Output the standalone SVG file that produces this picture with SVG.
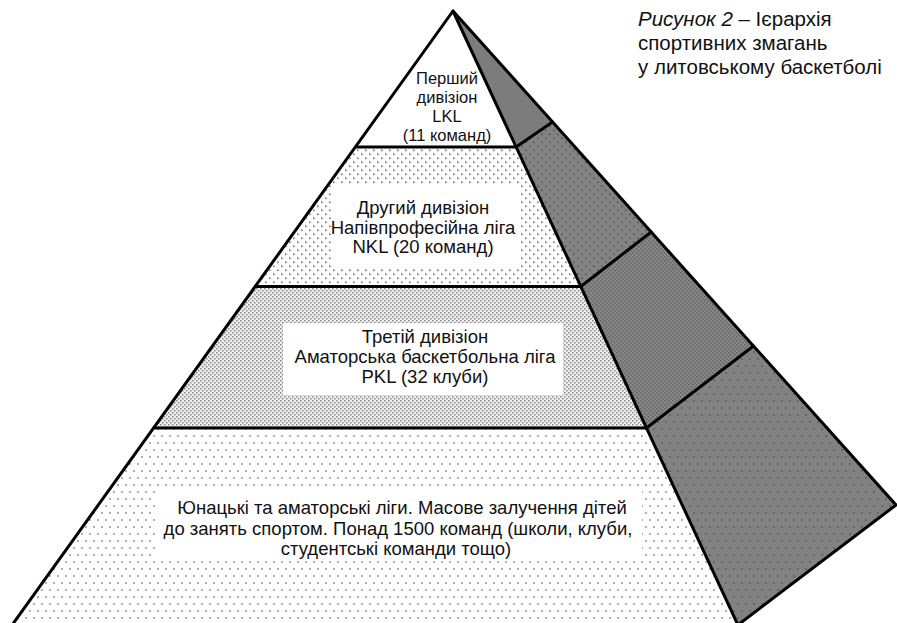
<svg xmlns="http://www.w3.org/2000/svg" width="897" height="623" viewBox="0 0 897 623">
<style>
text{font-family:"Liberation Sans",Arial,sans-serif;fill:#111}
.t{font-size:18.5px;text-anchor:middle}
.t1{font-size:16.5px;text-anchor:middle}
.cap{font-size:20.5px}
.edge{fill:none;stroke:#000;stroke-width:3;stroke-linejoin:round;stroke-linecap:round}
.box{fill:#fff}
</style>
<defs>
<pattern id="pTri" width="8" height="8" patternUnits="userSpaceOnUse">
<rect width="8" height="8" fill="#fff"/>
<path d="M1,1 L3.6,2.2 L1,3.4Z M5,5 L7.6,6.2 L5,7.4Z" fill="#8a8a8a"/>
</pattern>
<pattern id="pChk" width="4" height="4" patternUnits="userSpaceOnUse">
<rect width="4" height="4" fill="#eeeeee"/>
<rect x="0" y="0" width="1.5" height="1.5" fill="#888"/>
<rect x="2" y="2" width="1.5" height="1.5" fill="#888"/>
</pattern>
<pattern id="pDot" width="8" height="14" patternUnits="userSpaceOnUse">
<rect width="8" height="14" fill="#fff"/>
<circle cx="2" cy="2" r="0.9" fill="#8c8c8c"/>
<circle cx="6" cy="9" r="0.9" fill="#8c8c8c"/>
</pattern>
<pattern id="sTri" width="8" height="8" patternUnits="userSpaceOnUse">
<rect width="8" height="8" fill="#838383"/>
<path d="M1,1 L3.6,2.2 L1,3.4Z M5,5 L7.6,6.2 L5,7.4Z" fill="#5a5a5a"/>
</pattern>
<pattern id="sChk" width="4" height="4" patternUnits="userSpaceOnUse">
<rect width="4" height="4" fill="#868686"/>
<rect x="0" y="0" width="1.4" height="1.4" fill="#5e5e5e"/>
<rect x="2" y="2" width="1.4" height="1.4" fill="#5e5e5e"/>
</pattern>
<pattern id="sDot" width="8" height="14" patternUnits="userSpaceOnUse">
<rect width="8" height="14" fill="#828282"/>
<circle cx="2" cy="2" r="0.9" fill="#5a5a5a"/>
<circle cx="6" cy="9" r="0.9" fill="#5a5a5a"/>
</pattern>
</defs>
<rect width="897" height="623" fill="#fff"/>

<g id="tier1">
<polygon points="453,11 355.4,147 516.1,147" fill="#fff"/>
<polygon points="453,11 516.1,147 552.5,122" fill="#7c7c7c"/>
<text class="t1" x="447" y="84">Перший</text>
<text class="t1" x="447" y="103">дивізіон</text>
<text class="t1" x="447" y="122">LKL</text>
<text class="t1" x="447" y="141">(11 команд)</text>
</g>

<g id="tier2">
<polygon points="355.4,147 255.2,286.5 580.8,286.5 516.1,147" fill="url(#pTri)"/>
<polygon points="516.1,147 580.8,286.5 651.2,232 552.5,122" fill="url(#sTri)"/>
<rect class="box" x="332" y="184" width="188" height="83"/>
<text class="t" x="423" y="214">Другий дивізіон</text>
<text class="t" x="423" y="233.5">Напівпрофесійна ліга</text>
<text class="t" x="423" y="252.5">NKL (20 команд)</text>
</g>

<g id="tier3">
<polygon points="255.2,286.5 153.6,428 646.5,428 580.8,286.5" fill="url(#pChk)"/>
<polygon points="580.8,286.5 646.5,428 753.5,346 651.2,232" fill="url(#sChk)"/>
<rect class="box" x="283" y="323" width="280" height="72"/>
<text class="t" x="425" y="343">Третій дивізіон</text>
<text class="t" x="425" y="363">Аматорська баскетбольна ліга</text>
<text class="t" x="425" y="383">PKL (32 клуби)</text>
</g>

<g id="tier4">
<polygon points="153.6,428 12.1,625 737.9,625 646.5,428" fill="url(#pDot)"/>
<polygon points="646.5,428 737.9,625 896,505 753.5,346" fill="url(#sDot)"/>
<rect class="box" x="156" y="491" width="486" height="69"/>
<text class="t" x="402" y="514">Юнацькі та аматорські ліги. Масове залучення дітей</text>
<text class="t" x="398" y="534.5">до занять спортом. Понад 1500 команд (школи, клуби,</text>
<text class="t" x="396" y="555">студентські команди тощо)</text>
</g>

<g id="edges">
<path class="edge" d="M12.1,625 L453,11 L896,505 L737.9,625"/>
<path class="edge" d="M453,11 L737.9,625"/>
<path class="edge" d="M355.4,147 L516.1,147 L552.5,122"/>
<path class="edge" d="M255.2,286.5 L580.8,286.5 L651.2,232"/>
<path class="edge" d="M153.6,428 L646.5,428 L753.5,346"/>
</g>

<g id="caption">
<text class="cap" x="638" y="26"><tspan font-style="italic">Рисунок 2</tspan> – Ієрархія</text>
<text class="cap" x="638" y="50">спортивних змагань</text>
<text class="cap" x="638" y="74">у литовському баскетболі</text>
</g>
</svg>
